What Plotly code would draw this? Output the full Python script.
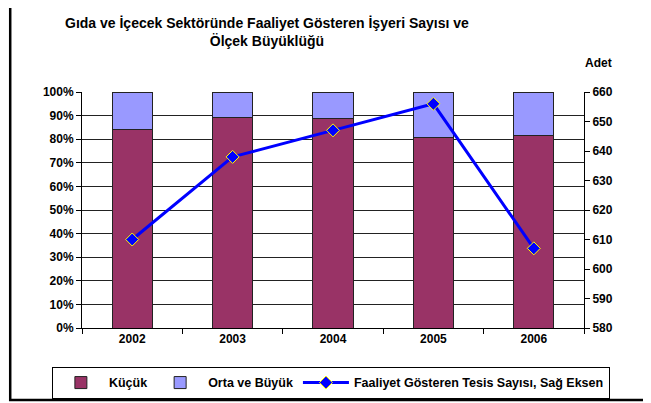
import plotly.graph_objects as go

# data
years = ["2002", "2003", "2004", "2005", "2006"]
kucuk = [84.3, 89.1, 88.9, 80.8, 81.6]          # % share, small firms
orta_buyuk = [100 - v for v in kucuk]           # % share, medium & large
tesis_sayisi = [610, 638, 647, 656, 607]        # number of facilities (right axis)

FONT = "Liberation Sans, Arial, sans-serif"

fig = go.Figure()
fig.add_trace(go.Bar(
    x=years, y=kucuk, name="Küçük",
    marker=dict(color="#993366", line=dict(color="#222", width=1)),
))
fig.add_trace(go.Bar(
    x=years, y=orta_buyuk, name="Orta ve Büyük",
    marker=dict(color="#9999ff", line=dict(color="#222", width=1)),
))
fig.add_trace(go.Scatter(
    x=years, y=tesis_sayisi, name="Faaliyet Gösteren Tesis Sayısı, Sağ Eksen",
    yaxis="y2", mode="lines+markers",
    line=dict(color="#0000ff", width=3),
    marker=dict(symbol="diamond", size=10, color="#0000ff",
                line=dict(color="#ffff00", width=1)),
))

# the page body adds 8px around the figure, so margins are shifted by that
fig.update_layout(
    width=651, height=403,
    barmode="stack", bargap=0.6,
    paper_bgcolor="white", plot_bgcolor="white",
    font=dict(family=FONT, size=12, color="black"),
    margin=dict(l=74, r=75, t=84, b=83, autoexpand=False),
    xaxis=dict(
        type="category", tickson="boundaries", ticks="outside", ticklen=5,
        tickcolor="black", showline=True, linecolor="black",
        tickfont=dict(size=12, family=FONT, weight="bold"),
        showgrid=False,
    ),
    yaxis=dict(
        range=[0, 100], dtick=10, ticksuffix="%", ticks="outside", ticklen=5,
        tickcolor="black", showline=True, linecolor="black",
        showgrid=True, gridcolor="#222", gridwidth=1, zeroline=False,
        tickfont=dict(size=12, family=FONT, weight="bold"),
    ),
    yaxis2=dict(
        overlaying="y", side="right", range=[580, 660], dtick=10,
        ticks="outside", ticklen=5, tickcolor="black",
        showline=True, linecolor="black", showgrid=False, zeroline=False,
        tickfont=dict(size=12, family=FONT, weight="bold"),
    ),
    # anchored left of the plot area so the legend may be wider than it
    legend=dict(
        orientation="h", x=-0.06, xanchor="left",
        y=-0.165, yanchor="top",
        traceorder="normal",
        bordercolor="black", borderwidth=1,
        font=dict(size=12.5, family=FONT, weight="bold"),
        itemwidth=46,
    ),
    showlegend=True,
)

# title as annotation so both lines sit where the reference has them
fig.add_annotation(
    text="<b>Gıda ve İçecek Sektöründe Faaliyet Gösteren İşyeri Sayısı ve<br>Ölçek Büyüklüğü</b>",
    xref="paper", yref="paper", x=0.368, xanchor="center",
    y=1.335, yanchor="top", showarrow=False,
    font=dict(size=14, family=FONT),
)

fig.add_annotation(
    text="<b>Adet</b>", xref="paper", yref="paper",
    x=1.028, xanchor="center", y=1.123, yanchor="middle",
    showarrow=False, font=dict(size=12, family=FONT),
)

# outer chart border
fig.add_shape(
    type="rect", xref="paper", yref="paper",
    x0=-0.143, x1=1.15, y0=-0.305, y1=1.39,
    line=dict(color="black", width=2.5), layer="below",
)

fig.write_html("out.html")
